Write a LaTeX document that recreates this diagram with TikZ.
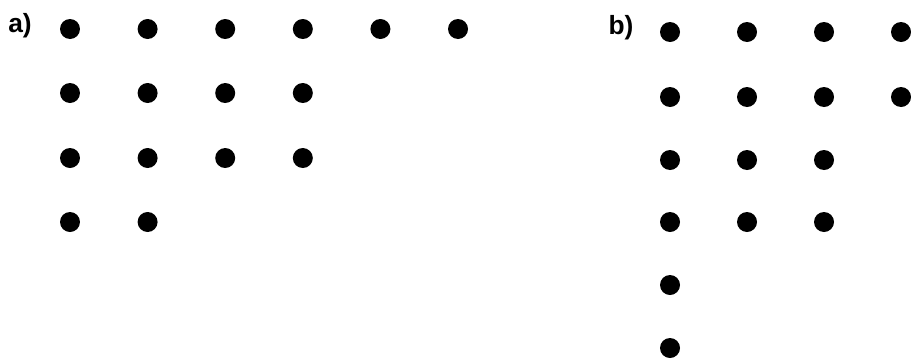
\documentclass[tikz,border=0pt]{standalone}
\usepackage{fontspec}
\setmainfont{Liberation Sans}
\usepackage{tikz}

\begin{document}
\begin{tikzpicture}[
  x=0.02cm,y=-0.02cm,
  dot/.style={circle,fill=black,inner sep=0pt,minimum size=0.4cm},
  tag/.style={font=\fontsize{15}{15}\selectfont\bfseries,inner sep=0pt}
]
  \useasboundingbox (0,0) rectangle (911,359);
  % a) rows 6,4,4,2
  \node[tag] (lbla) at (20,26) {a)};
  \foreach \r/\y/\n in {1/29/6,2/93/4,3/158/4,4/222/2}
    \foreach \c in {1,...,\n}
      \node[dot] (a-\r-\c) at ({70+77.6*(\c-1)},\y) {};
  % b) rows 4,4,3,3,1,1
  \node[tag] (lblb) at (621,28) {b)};
  \foreach \r/\y/\n in {1/32/4,2/97/4,3/160/3,4/222/3,5/285/1,6/348/1}
    \foreach \c in {1,...,\n}
      \node[dot] (b-\r-\c) at ({670+77*(\c-1)},\y) {};
\end{tikzpicture}
\end{document}
